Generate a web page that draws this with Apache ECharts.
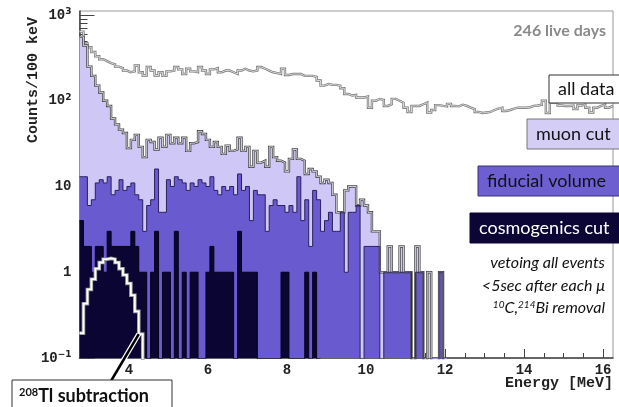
<!DOCTYPE html>
<html>
<head>
<meta charset="utf-8">
<script src="https://cdn.jsdelivr.net/npm/echarts@6/dist/echarts.min.js"></script>
<style>
  html, body { margin: 0; padding: 0; background: #fff; }
  #chart { width: 619px; height: 407px; }
</style>
</head>
<body>
<div id="chart"></div>
<script>
// 100 keV bins, first bin starts at 2.75 MeV
const binStart = 2.75;
const binWidth = 0.1;

// counts per bin
const allData = [
  640, 470, 420, 370, 330, 305, 290, 275, 265, 250, 240, 225,
  215, 220, 258, 215, 197, 247, 225, 197, 215, 195, 220, 225, 247, 232, 205, 236, 220, 215,
  247, 225, 205, 232, 240, 215, 225, 225, 215, 205, 225, 236, 225, 220, 225,
  247, 236, 225, 215, 210, 205, 236, 200, 205, 205, 205, 195, 195, 195, 190, 172, 150, 157,
  153, 153, 150, 140, 120, 115, 117, 109, 109, 112, 83, 100, 105, 102, 87, 91, 105, 100,
  95, 83, 74, 87, 87, 91, 95, 73, 78,
  89, 87, 86, 92, 87, 86, 90, 87, 83, 80, 74, 72, 73, 74, 78, 81, 83, 76, 78, 81, 83, 83,
  83, 84, 87, 88, 90, 100, 72, 95, 95, 88, 87, 87, 88, 80, 88, 90, 83, 73, 83, 87, 90, 83, 87
];

const muonCut = [
  556, 440, 250, 195, 150, 125, 100, 87, 62, 53, 46, 42,
  28, 35, 40, 29, 22, 35, 33, 27, 37, 29, 40, 32, 37, 32, 37, 26, 32, 33, 44, 41, 35, 29,
  33, 29, 24, 30, 26, 27, 37, 26, 29, 17, 26,
  19, 20, 17, 29, 22, 20, 19, 15, 21, 27, 21, 20, 14, 16, 15, 13, 11, 12, 11,
  8, 5, 5, 9, 10, 10, 6, 7, 6, 5, 3, 3, 1, 1, 2, 1, 1, 2, 1, 1, 0, 2, 1, 0, 1, 0, 0, 1, 0
];

const fiducialVolume = [
  13, 13, 6, 7, 11, 12, 11, 13, 8, 9, 12, 9, 10, 11, 8, 7, 3, 6, 7, 16,
  5, 5, 12, 10, 13, 12, 11, 9, 11, 10, 12, 11, 10, 13, 9, 8, 10, 9, 10, 8,
  14, 9, 10, 4, 9,
  8, 8, 3, 6, 7, 6, 6, 5, 6, 5, 13, 4, 7, 2, 9, 7, 3, 4, 5, 3, 3, 5, 1, 5, 5, 6,
  0, 2, 2, 2, 2, 0, 1, 1, 1, 1, 1, 1, 1, 0, 1, 1, 0, 0, 0, 0, 1, 0
];

const cosmogenicsCut = [
  4, 2, 2, 1, 2, 2, 1, 3, 2, 2, 2, 2, 2, 3, 2, 1, 1, 0, 1, 3,
  0, 1, 1, 0, 3, 0, 1, 0, 1, 1, 0, 0, 1, 2, 1, 1, 1, 1, 1, 0,
  3, 1, 1, 1, 1, 0, 0, 0, 0, 0, 0, 1, 1, 0, 0, 0, 0, 1, 0, 1, 0
];

// 208Tl expectation that gets subtracted
const tlSubtraction = [
  0.195, 0.43, 0.63, 0.83, 1.1, 1.3, 1.42, 1.45, 1.42, 1.3, 1.1, 0.93, 0.74, 0.54, 0.35, 0.19, 0
];

const xMajorTicks = [4, 6, 8, 10, 12, 14, 16];
const xMinorTicks = [3, 3.5, 4.5, 5, 5.5, 6.5, 7, 7.5, 8.5, 9, 9.5, 10.5, 11, 11.5,
  12.5, 13, 13.5, 14.5, 15, 15.5];
const yMajorTicks = [0.1, 1, 10, 100, 1000];
const yMinorTicks = [];
[0.1, 1, 10, 100].forEach(d => { for (let m = 2; m <= 9; m++) yMinorTicks.push(d * m); });

// empty bins drop below the axis floor so the step outline goes down to it
const floor = 1e-3;
function histPoints(counts) {
  const pts = counts.map((c, i) => [binStart + i * binWidth, c > 0 ? c : floor]);
  const last = counts[counts.length - 1];
  pts.push([binStart + counts.length * binWidth, last > 0 ? last : floor]);
  return pts;
}

function stepLine(name, counts, color, width, fill) {
  const s = {
    name: name,
    type: 'line',
    step: 'end',
    data: histPoints(counts),
    symbol: 'none',
    silent: true,
    lineStyle: { color: color, width: width, join: 'miter' }
  };
  if (fill) s.areaStyle = { color: fill, opacity: 1, origin: 0.1 };
  return s;
}

const monoFont = '"Liberation Mono", "DejaVu Sans Mono", monospace';
const boxFont = 'Lato, "Open Sans", sans-serif';

const chart = echarts.init(document.getElementById('chart'));

const option = {
  animation: false,
  grid: { left: 79.5, right: 6, top: 11, bottom: 49, show: true, borderColor: '#999', borderWidth: 1 },
  xAxis: [
    {
      type: 'value', min: 2.75, max: 16.25,
      axisLine: { show: true, lineStyle: { color: '#444', width: 1.5 } },
      axisTick: { inside: true, length: 9, customValues: xMajorTicks, lineStyle: { color: '#444' } },
      axisLabel: {
        customValues: xMajorTicks, margin: 5, color: '#222',
        fontFamily: monoFont, fontSize: 14, fontWeight: 'bold'
      },
      splitLine: { show: false }
    },
    {
      type: 'value', min: 2.75, max: 16.25, position: 'bottom',
      axisLine: { show: false },
      axisTick: { inside: true, length: 5, customValues: xMinorTicks, lineStyle: { color: '#444' } },
      axisLabel: { show: false },
      splitLine: { show: false }
    }
  ],
  yAxis: [
    {
      type: 'log', logBase: 10, min: 0.1, max: 1113,
      axisLine: { show: true, lineStyle: { color: '#444', width: 1.5 } },
      axisTick: { show: true, inside: true, length: 15, customValues: yMajorTicks, lineStyle: { color: '#444' } },
      axisLabel: {
        customValues: yMajorTicks, margin: 8, color: '#222',
        fontFamily: monoFont, fontSize: 14, fontWeight: 'bold',
        formatter: v => {
          const e = Math.round(Math.log10(v));
          if (e === 0) return '1';
          if (e === 1) return '10';
          return '10{sup|' + (e < 0 ? '\u2212' + (-e) : e) + '}';
        },
        rich: {
          sup: { fontSize: 9, fontFamily: 'DejaVu Sans', verticalAlign: 'top', padding: [0, 0, 7, 0], color: '#222' }
        }
      },
      splitLine: { show: false }
    },
    {
      type: 'log', logBase: 10, min: 0.1, max: 1113, position: 'left',
      axisLine: { show: false },
      axisTick: { show: true, inside: true, length: 8, customValues: yMinorTicks, lineStyle: { color: '#444' } },
      axisLabel: { show: false },
      splitLine: { show: false }
    }
  ],
  series: [
    stepLine('all data', allData, '#7a7a7a', 2.4),
    stepLine('all data', allData, '#f0f0f0', 0.8),
    stepLine('muon cut', muonCut, '#454545', 2.4, '#cfc8f6'),
    stepLine('muon cut', muonCut, '#f6f4ff', 0.8),
    stepLine('fiducial volume', fiducialVolume, '#2a205e', 1, '#6a5acf'),
    stepLine('cosmogenics cut', cosmogenicsCut, '#05021a', 1, '#0b0533'),
    stepLine('208Tl', tlSubtraction, '#9a9a9a', 3.6),
    stepLine('208Tl', tlSubtraction, '#ffffff', 1.8)
  ]
};

chart.setOption(option);

// pointer from the 208Tl box to the end of the subtracted curve
const tip = chart.convertToPixel({ xAxisIndex: 0, yAxisIndex: 0 }, [4.25, 0.19]);
const boxText = (x, y, w, h, fill, stroke, text, color, font) => [
  { type: 'rect', z: 100, shape: { x: x, y: y, width: w, height: h },
    style: { fill: fill, stroke: stroke, lineWidth: 1 } },
  { type: 'text', z: 101, x: x + 9, y: y + h / 2,
    style: { text: text, fill: color, font: font, textVerticalAlign: 'middle' } }
];

const graphics = [
  { type: 'text', z: 100, x: 33, y: 80, rotation: Math.PI / 2,
    style: { text: 'Counts/100 keV', fill: '#222', font: 'bold 15px ' + monoFont,
      textAlign: 'center', textVerticalAlign: 'middle' } },
  { type: 'text', z: 100, x: 613, y: 383,
    style: { text: 'Energy [MeV]', fill: '#222', font: 'bold 15px ' + monoFont,
      textAlign: 'right', textVerticalAlign: 'middle' } },
  { type: 'text', z: 100, x: 606, y: 31,
    style: { text: '246 live days', fill: '#8a8a8a', font: 'bold 16px ' + boxFont,
      textAlign: 'right', textVerticalAlign: 'middle' } },
  ...boxText(549, 75, 80, 28, '#ffffff', '#333', 'all data', '#111', '18px ' + boxFont),
  ...boxText(527, 119, 100, 30, '#d4cef7', '#777', 'muon cut', '#111', '18px ' + boxFont),
  ...boxText(478, 166, 150, 30, '#6e5fd0', '#3a3080', 'fiducial volume', '#111', '18px ' + boxFont),
  ...boxText(470, 213, 160, 30, '#0c0636', '#0c0636', 'cosmogenics cut', '#ffffff', '18px ' + boxFont),
  { type: 'text', z: 100, x: 605, y: 263,
    style: { text: 'vetoing all events', fill: '#111', font: 'italic 16px ' + boxFont,
      textAlign: 'right', textVerticalAlign: 'middle' } },
  { type: 'text', z: 100, x: 605, y: 286,
    style: { text: '<5sec after each \u03bc', fill: '#111', font: 'italic 16px ' + boxFont,
      textAlign: 'right', textVerticalAlign: 'middle' } },
  { type: 'text', z: 100, x: 605, y: 308,
    style: {
      text: '{s|10}{t|C,}{s|214}{t|Bi removal}', textAlign: 'right', textVerticalAlign: 'middle',
      rich: {
        s: { fontSize: 10, fontFamily: boxFont, fontStyle: 'italic', fill: '#111', verticalAlign: 'top' },
        t: { fontSize: 16, fontFamily: boxFont, fontStyle: 'italic', fill: '#111' }
      }
    } },
  { type: 'line', z: 90, shape: { x1: 111, y1: 381, x2: tip[0], y2: tip[1] },
    style: { stroke: '#ffffff', lineWidth: 5 } },
  { type: 'line', z: 91, shape: { x1: 111, y1: 381, x2: tip[0], y2: tip[1] },
    style: { stroke: '#000000', lineWidth: 2.5 } },
  { type: 'rect', z: 100, shape: { x: 12, y: 380, width: 160, height: 40 },
    style: { fill: '#ffffff', stroke: '#333', lineWidth: 1 } },
  { type: 'text', z: 101, x: 19, y: 396,
    style: {
      text: '{s|208}{t|Tl subtraction}', textVerticalAlign: 'middle',
      rich: {
        s: { fontSize: 11, fontFamily: boxFont, fontWeight: 'bold', fill: '#111', verticalAlign: 'top' },
        t: { fontSize: 18, fontFamily: boxFont, fontWeight: 'bold', fill: '#111' }
      }
    } }
];

chart.setOption({ graphic: { elements: graphics } });
</script>
</body>
</html>
